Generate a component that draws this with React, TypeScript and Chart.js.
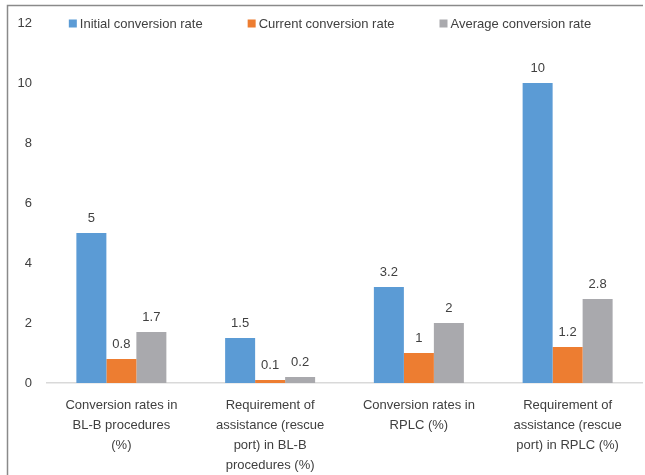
import React, { useEffect, useRef } from "react";
import { Chart, registerables } from "chart.js";

Chart.register(...registerables);

const categories: string[][] = [
  ["Conversion rates in", "BL-B procedures", "(%)"],
  ["Requirement of", "assistance (rescue", "port) in BL-B", "procedures (%)"],
  ["Conversion rates in", "RPLC (%)"],
  ["Requirement of", "assistance (rescue", "port) in RPLC (%)"],
];
const seriesNames = ["Initial conversion rate", "Current conversion rate", "Average conversion rate"];
const initialRate = [5, 1.5, 3.2, 10];
const currentRate = [0.8, 0.1, 1, 1.2];
const averageRate = [1.7, 0.2, 2, 2.8];
const colors = ["#5B9BD5", "#ED7D31", "#A9A9AD"];
const yTicks = [0, 2, 4, 6, 8, 10, 12];

const TEXT = "#404040";
const FONT = "'Liberation Sans', Arial, sans-serif";

const framePlugin = {
  id: "frame",
  beforeDraw(chart: any) {
    const ctx = chart.ctx;
    ctx.save();
    ctx.strokeStyle = "#8a8a8a";
    ctx.lineWidth = 1.5;
    ctx.beginPath();
    ctx.moveTo(643, 5.5);
    ctx.lineTo(7.5, 5.5);
    ctx.lineTo(7.5, 475);
    ctx.stroke();
    ctx.restore();
  },
};

const legendPlugin = {
  id: "topLegend",
  afterDraw(chart: any) {
    const ctx = chart.ctx;
    ctx.save();
    ctx.font = `13px ${FONT}`;
    ctx.textBaseline = "middle";
    ctx.textAlign = "left";
    const box = 8;
    const gapText = 3;
    const gapItem = 45;
    const ds = chart.data.datasets;
    const widths = ds.map((d: any) => box + gapText + ctx.measureText(d.label).width);
    const total = widths.reduce((a: number, b: number) => a + b, 0) + gapItem * (ds.length - 1);
    let x = 330 - total / 2;
    const y = 24;
    ds.forEach((d: any, i: number) => {
      ctx.fillStyle = d.backgroundColor;
      ctx.fillRect(x, y - box / 2 - 0.5, box, box);
      ctx.fillStyle = TEXT;
      ctx.fillText(d.label, x + box + gapText, y);
      x += widths[i] + gapItem;
    });
    ctx.restore();
  },
};

const labelPlugin = {
  id: "valueLabels",
  afterDatasetsDraw(chart: any) {
    const ctx = chart.ctx;
    ctx.save();
    ctx.font = `13px ${FONT}`;
    ctx.fillStyle = TEXT;
    ctx.textAlign = "center";
    ctx.textBaseline = "bottom";
    chart.data.datasets.forEach((ds: any, i: number) => {
      const meta = chart.getDatasetMeta(i);
      meta.data.forEach((bar: any, j: number) => {
        ctx.fillText(String(ds.data[j]), bar.x, bar.y - 8);
      });
    });
    ctx.restore();
  },
};

export default function App() {
  const ref = useRef<HTMLCanvasElement>(null);
  useEffect(() => {
    if (!ref.current) return;
    const chart = new Chart(ref.current, {
      type: "bar",
      data: {
        labels: categories as any,
        datasets: [initialRate, currentRate, averageRate].map((d, i) => ({
          label: seriesNames[i],
          data: d,
          backgroundColor: colors[i],
          borderWidth: 0,
          categoryPercentage: 0.605,
          barPercentage: 1,
        })),
      },
      options: {
        animation: false,
        responsive: false,
        devicePixelRatio: 1,
        layout: { padding: { top: 23, right: 3, left: 0, bottom: 0 } },
        plugins: {
          legend: { display: false },
          tooltip: { enabled: false },
        },
        scales: {
          x: {
            grid: { display: false, drawTicks: false },
            border: { display: true, color: "#D9D9D9", width: 1.5 },
            ticks: {
              color: TEXT,
              font: { family: FONT, size: 13, lineHeight: 1.54 },
              padding: 12,
              maxRotation: 0,
              autoSkip: false,
            },
            afterFit(scale: any) {
              scale.height = 92;
            },
          },
          y: {
            min: 0,
            max: 12,
            afterBuildTicks(scale: any) {
              scale.ticks = yTicks.map((v) => ({ value: v }));
            },
            grid: { display: false, drawTicks: false },
            border: { display: false },
            ticks: {
              color: TEXT,
              font: { family: FONT, size: 13 },
              padding: 15,
            },
            afterFit(scale: any) {
              scale.width = 47;
            },
          },
        },
      },
      plugins: [framePlugin, legendPlugin, labelPlugin],
    });
    return () => chart.destroy();
  }, []);
  return (
    <div style={{ position: "absolute", left: 0, top: 0, width: 645, height: 475, background: "#fff" }}>
      <canvas ref={ref} width={645} height={475} style={{ width: 645, height: 475 }} />
    </div>
  );
}
